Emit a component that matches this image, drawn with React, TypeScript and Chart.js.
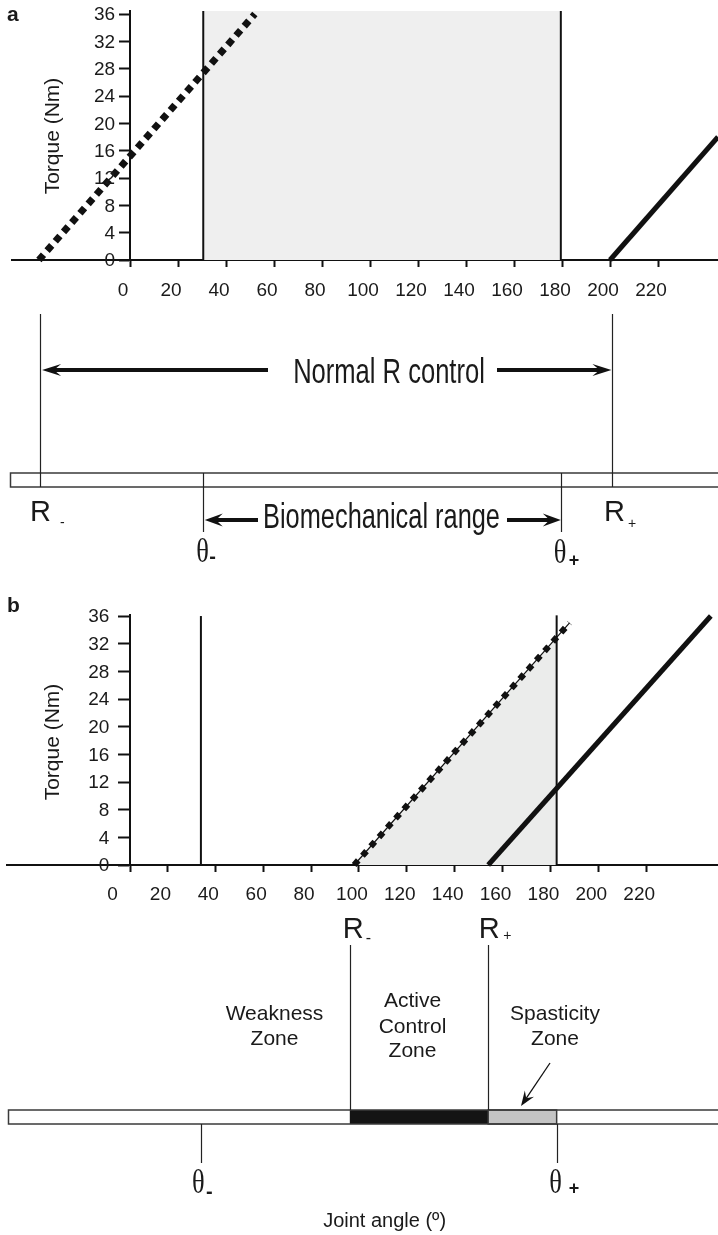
import React, { useEffect, useRef } from 'react';
import { Chart, registerables } from 'chart.js';

Chart.register(...registerables);

// ---------- shared axes ----------
const ANGLE_TICKS = [0, 20, 40, 60, 80, 100, 120, 140, 160, 180, 200, 220];
const TORQUE_TICKS = [0, 4, 8, 12, 16, 20, 24, 28, 32, 36];

// ---------- panel a ----------
const A_PASSIVE_ANGLE = [-38, 52];
const A_PASSIVE_TORQUE = [0, 36];
const A_ACTIVE_ANGLE = [200, 245];
const A_ACTIVE_TORQUE = [0, 18];
const A_THETA = [30.5, 179.5]; // theta-, theta+
const A_R = [-37.5, 201]; // R-, R+
const A_RANGE = [-49.2, 245];
const A_TOP = 36.44;
const A_BAR = [-50, 250];

// ---------- panel b ----------
const B_PASSIVE_ANGLE = [98, 188];
const B_PASSIVE_TORQUE = [0, 35];
const B_ACTIVE_ANGLE = [154, 247];
const B_ACTIVE_TORQUE = [0, 36];
const B_THETA = [34, 182.6];
const B_R = [96.2, 154];
const B_SHADE_ANGLE = [98, 182.6];
const B_SHADE_TORQUE = [0, 32.9];
const B_RANGE = [-47, 250];
const B_TOP = 36.15;
const B_YAXIS_AT = 4.5;
const B_BAR = [-46.6, 255];

const FONT = "'Liberation Sans', Arial, Helvetica, sans-serif";
const SERIF = "'Liberation Serif', 'Times New Roman', serif";
const INK = '#111';
const TXT = '#1a1a1a';

function pts(xs: number[], ys: number[]) {
  return xs.map((x, i) => ({ x, y: ys[i] }));
}

function lineDs(data: any, width: number, extra: any = {}) {
  return {
    data,
    borderColor: INK,
    backgroundColor: INK,
    borderWidth: width,
    pointRadius: 0,
    fill: false,
    tension: 0,
    borderCapStyle: 'butt',
    clip: false,
    ...extra,
  };
}

function yTitle(ctx: CanvasRenderingContext2D, cx: number, cy: number) {
  ctx.save();
  ctx.translate(cx, cy);
  ctx.rotate(-Math.PI / 2);
  ctx.font = `21px ${FONT}`;
  ctx.fillStyle = TXT;
  ctx.textAlign = 'center';
  ctx.textBaseline = 'middle';
  ctx.fillText('Torque (Nm)', 0, 0);
  ctx.restore();
}

// y tick labels drawn from the chart's own y scale (axis sits inside the plot)
function yLabels(chart: any, rightX: number) {
  const ctx: CanvasRenderingContext2D = chart.ctx;
  const ys = chart.scales.y;
  ctx.save();
  ctx.font = `19px ${FONT}`;
  ctx.fillStyle = TXT;
  ctx.textAlign = 'right';
  ctx.textBaseline = 'middle';
  ys.ticks.forEach((t: any) => {
    ctx.fillText(String(t.value), rightX, ys.getPixelForValue(t.value) + 1);
  });
  ctx.restore();
}

function vline(ctx: CanvasRenderingContext2D, x: number, y1: number, y2: number, w = 1.2) {
  const xx = Math.round(x) + 0.5;
  ctx.save();
  ctx.strokeStyle = '#222';
  ctx.lineWidth = w;
  ctx.beginPath();
  ctx.moveTo(xx, y1);
  ctx.lineTo(xx, y2);
  ctx.stroke();
  ctx.restore();
}

function arrowTo(ctx: CanvasRenderingContext2D, x1: number, y1: number, x2: number, y2: number, lw: number, hl: number, hw: number) {
  const a = Math.atan2(y2 - y1, x2 - x1);
  const L = Math.hypot(x2 - x1, y2 - y1);
  ctx.save();
  ctx.translate(x2, y2);
  ctx.rotate(a);
  ctx.strokeStyle = INK;
  ctx.fillStyle = INK;
  ctx.lineWidth = lw;
  ctx.beginPath();
  ctx.moveTo(-L, 0);
  ctx.lineTo(-hl * 0.6, 0);
  ctx.stroke();
  ctx.beginPath();
  ctx.moveTo(0, 0);
  ctx.lineTo(-hl, -hw);
  ctx.lineTo(-hl * 0.62, 0);
  ctx.lineTo(-hl, hw);
  ctx.closePath();
  ctx.fill();
  ctx.restore();
}

function text(ctx: CanvasRenderingContext2D, s: string, x: number, y: number, font: string, align: CanvasTextAlign = 'left', sx = 1) {
  ctx.save();
  ctx.font = font;
  ctx.fillStyle = TXT;
  ctx.textAlign = align;
  ctx.textBaseline = 'alphabetic';
  ctx.translate(x, y);
  ctx.scale(sx, 1);
  ctx.fillText(s, 0, 0);
  ctx.restore();
}

function buildConfig(p: any) {
  return {
    type: 'line',
    data: { datasets: p.datasets },
    options: {
      animation: false,
      responsive: false,
      events: [],
      layout: { padding: { top: p.padTop, left: p.padLeft, right: 0, bottom: 0 } },
      plugins: { legend: { display: false }, tooltip: { enabled: false } },
      scales: {
        x: {
          type: 'linear',
          min: p.xMin,
          max: p.xMax,
          z: 1,
          afterBuildTicks: (s: any) => {
            s.ticks = p.xTicks.map((v: number) => ({ value: v }));
          },
          afterFit: (s: any) => {
            s.height = p.xAxisHeight;
          },
          grid: {
            drawOnChartArea: false,
            drawTicks: true,
            tickLength: 7,
            tickWidth: 2,
            tickColor: (c: any) => (p.hideZeroTick && c.tick && c.tick.value === 0 ? 'rgba(0,0,0,0)' : INK),
          },
          border: { display: true, width: 2, color: INK },
          ticks: {
            autoSkip: false,
            maxRotation: 0,
            minRotation: 0,
            padding: p.xPad,
            labelOffset: -7,
            font: { family: FONT, size: 19 },
            color: TXT,
            callback: (v: number) => (ANGLE_TICKS.includes(v) ? String(v) : ''),
          },
        },
        y: {
          type: 'linear',
          min: 0,
          max: p.yMax,
          position: { x: p.yAxisAt },
          afterBuildTicks: (s: any) => {
            s.ticks = TORQUE_TICKS.map((v) => ({ value: v }));
          },
          grid: { drawOnChartArea: false, drawTicks: true, tickLength: p.yTickLen, tickWidth: 2, tickColor: INK },
          border: { display: true, width: 2, color: INK },
          ticks: { display: false, font: { family: FONT, size: 19 }, color: TXT },
        },
      },
    },
    plugins: [{ id: 'deco' + p.key, afterDraw: p.draw }],
  };
}

function drawA(chart: any) {
  const ctx: CanvasRenderingContext2D = chart.ctx;
  const px = (v: number) => chart.scales.x.getPixelForValue(v);
  ctx.save();
  text(ctx, 'a', 7, 21, `bold 21px ${FONT}`);
  yTitle(ctx, 53, 136);
  yLabels(chart, px(0) - 15);

  // joint-angle bar
  const bx0 = px(A_BAR[0]);
  const bx1 = px(A_BAR[1]);
  ctx.fillStyle = '#fff';
  ctx.fillRect(bx0, 473, bx1 - bx0, 14);
  ctx.strokeStyle = '#3a3a3a';
  ctx.lineWidth = 1.5;
  ctx.strokeRect(Math.round(bx0) + 0.5, 473, bx1 - bx0, 14);

  const rm = px(A_R[0]);
  const rp = px(A_R[1]);
  const tm = px(A_THETA[0]);
  const tp = px(A_THETA[1]);
  vline(ctx, rm, 314, 487);
  vline(ctx, rp, 314, 487);
  vline(ctx, tm, 473, 532);
  vline(ctx, tp, 473, 532);

  // Normal R control
  arrowTo(ctx, 268, 370, rm + 2, 370, 4, 19, 6);
  arrowTo(ctx, 497, 370, rp - 1, 370, 4, 19, 6);
  text(ctx, 'Normal R control', 389, 383, `35px ${FONT}`, 'center', 0.73);

  // Biomechanical range
  arrowTo(ctx, 258, 520, tm + 1.5, 520, 4, 18, 6.5);
  arrowTo(ctx, 507, 520, tp, 520, 4, 18, 6.5);
  text(ctx, 'Biomechanical range', 381.5, 528, `35px ${FONT}`, 'center', 0.725);

  // labels
  text(ctx, 'R', rm - 10, 521, `29px ${FONT}`);
  text(ctx, '-', rm + 20, 527, `14px ${FONT}`);
  text(ctx, 'R', rp - 8.5, 521, `29px ${FONT}`);
  text(ctx, '+', rp + 15.5, 527.5, `14px ${FONT}`);
  text(ctx, '\u03B8', tm - 7, 562, `33px ${SERIF}`, 'left', 0.8);
  text(ctx, '-', tm + 6, 563, `bold 20px ${FONT}`);
  text(ctx, '\u03B8', tp - 7, 563, `33px ${SERIF}`, 'left', 0.8);
  text(ctx, '+', tp + 8, 566, `bold 18px ${FONT}`);
  ctx.restore();
}

function drawB(chart: any) {
  const ctx: CanvasRenderingContext2D = chart.ctx;
  const px = (v: number) => chart.scales.x.getPixelForValue(v);
  ctx.save();
  text(ctx, 'b', 7, 22, `bold 21px ${FONT}`);
  yTitle(ctx, 53, 152);
  yLabels(chart, px(B_YAXIS_AT) - 21);

  const bx0 = px(B_BAR[0]);
  const bx1 = px(B_BAR[1]);
  const rm = px(B_R[0]);
  const rp = px(B_R[1]);
  const tm = px(B_THETA[0]);
  const tp = px(B_THETA[1]);
  const top = 520;
  const h = 14;
  ctx.fillStyle = '#fff';
  ctx.fillRect(bx0, top, bx1 - bx0, h);
  ctx.fillStyle = '#141414';
  ctx.fillRect(rm, top, rp - rm, h);
  ctx.fillStyle = '#c4c4c4';
  ctx.fillRect(rp, top, tp - rp, h);
  ctx.strokeStyle = '#3a3a3a';
  ctx.lineWidth = 1.5;
  ctx.strokeRect(Math.round(bx0) + 0.5, top, bx1 - bx0, h);
  ctx.strokeRect(rp, top, tp - rp, h);

  vline(ctx, rm, 355, top);
  vline(ctx, rp, 355, top);
  vline(ctx, tm, top + h, 573);
  vline(ctx, tp, top + h, 573);

  text(ctx, 'R', rm - 7, 348, `29px ${FONT}`);
  text(ctx, '-', rm + 16, 352.5, `16px ${FONT}`);
  text(ctx, 'R', rp - 9.5, 348, `29px ${FONT}`);
  text(ctx, '+', rp + 15, 349.5, `14px ${FONT}`);

  text(ctx, '\u03B8', tm - 9, 603, `33px ${SERIF}`, 'left', 0.8);
  text(ctx, '-', tm + 5, 608, `bold 20px ${FONT}`);
  text(ctx, '\u03B8', tp - 7.5, 603, `33px ${SERIF}`, 'left', 0.8);
  text(ctx, '+', tp + 12, 604, `bold 18px ${FONT}`);

  const f = `21px ${FONT}`;
  text(ctx, 'Weakness', 274.5, 430, f, 'center');
  text(ctx, 'Zone', 274.5, 455, f, 'center');
  text(ctx, 'Active', 412.5, 417, f, 'center');
  text(ctx, 'Control', 412.5, 443, f, 'center');
  text(ctx, 'Zone', 412.5, 467, f, 'center');
  text(ctx, 'Spasticity', 555, 430, f, 'center');
  text(ctx, 'Zone', 555, 455, f, 'center');

  arrowTo(ctx, 550, 473, 521, 516, 1.3, 15, 5.5);

  text(ctx, 'Joint angle (\u00BA)', 384.6, 637, `20px ${FONT}`, 'center');
  ctx.restore();
}

export default function App() {
  const refA = useRef<HTMLCanvasElement | null>(null);
  const refB = useRef<HTMLCanvasElement | null>(null);

  useEffect(() => {
    document.body.style.margin = '0';
    const cA = new Chart(
      refA.current as HTMLCanvasElement,
      buildConfig({
        key: 'A',
        padTop: 11,
        padLeft: 12,
        xMin: A_RANGE[0],
        xMax: A_RANGE[1],
        yMax: A_TOP,
        yAxisAt: 0,
        xAxisHeight: 330,
        xPad: 12,
        yTickLen: 10,
        hideZeroTick: false,
        xTicks: ANGLE_TICKS,
        draw: drawA,
        datasets: [
          lineDs(pts(A_THETA, [A_TOP, A_TOP]), 0, { fill: 'origin', backgroundColor: '#efefef', order: 10 }),
          lineDs(pts([A_THETA[0], A_THETA[0]], [0, A_TOP]), 2, { order: 5 }),
          lineDs(pts([A_THETA[1], A_THETA[1]], [0, A_TOP]), 2, { order: 5 }),
          lineDs(pts(A_PASSIVE_ANGLE, A_PASSIVE_TORQUE), 7, { borderDash: [7, 5.45], order: 2 }),
          lineDs(pts(A_ACTIVE_ANGLE, A_ACTIVE_TORQUE), 5, { order: 1 }),
        ],
      }) as any
    );
    const cB = new Chart(
      refB.current as HTMLCanvasElement,
      buildConfig({
        key: 'B',
        padTop: 25,
        padLeft: 7,
        xMin: B_RANGE[0],
        xMax: B_RANGE[1],
        yMax: B_TOP,
        yAxisAt: B_YAXIS_AT,
        xAxisHeight: 370,
        xPad: 11,
        yTickLen: 11,
        hideZeroTick: true,
        xTicks: [0, B_YAXIS_AT, ...ANGLE_TICKS.slice(1)],
        draw: drawB,
        datasets: [
          lineDs(pts(B_SHADE_ANGLE, B_SHADE_TORQUE), 0, { fill: 'origin', backgroundColor: '#ebeceb', order: 10 }),
          lineDs(pts([B_THETA[0], B_THETA[0]], [0, 36]), 2, { order: 5 }),
          lineDs(pts([B_THETA[1], B_THETA[1]], [0, 36.1]), 2, { order: 5 }),
          lineDs(pts(B_PASSIVE_ANGLE, B_PASSIVE_TORQUE), 1.2, { order: 3 }),
          lineDs(pts(B_PASSIVE_ANGLE, B_PASSIVE_TORQUE), 6.2, { borderDash: [6.2, 6.25], order: 2 }),
          lineDs(pts(B_ACTIVE_ANGLE, B_ACTIVE_TORQUE), 5, { order: 1 }),
        ],
      }) as any
    );
    return () => {
      cA.destroy();
      cB.destroy();
    };
  }, []);

  return (
    <div style={{ position: 'relative', width: 718, height: 1235, background: '#fff', overflow: 'hidden' }}>
      <style>{'body{margin:0}'}</style>
      <canvas ref={refA} width={718} height={590} style={{ position: 'absolute', left: 0, top: 0, display: 'block' }} />
      <canvas ref={refB} width={718} height={645} style={{ position: 'absolute', left: 0, top: 590, display: 'block' }} />
    </div>
  );
}
